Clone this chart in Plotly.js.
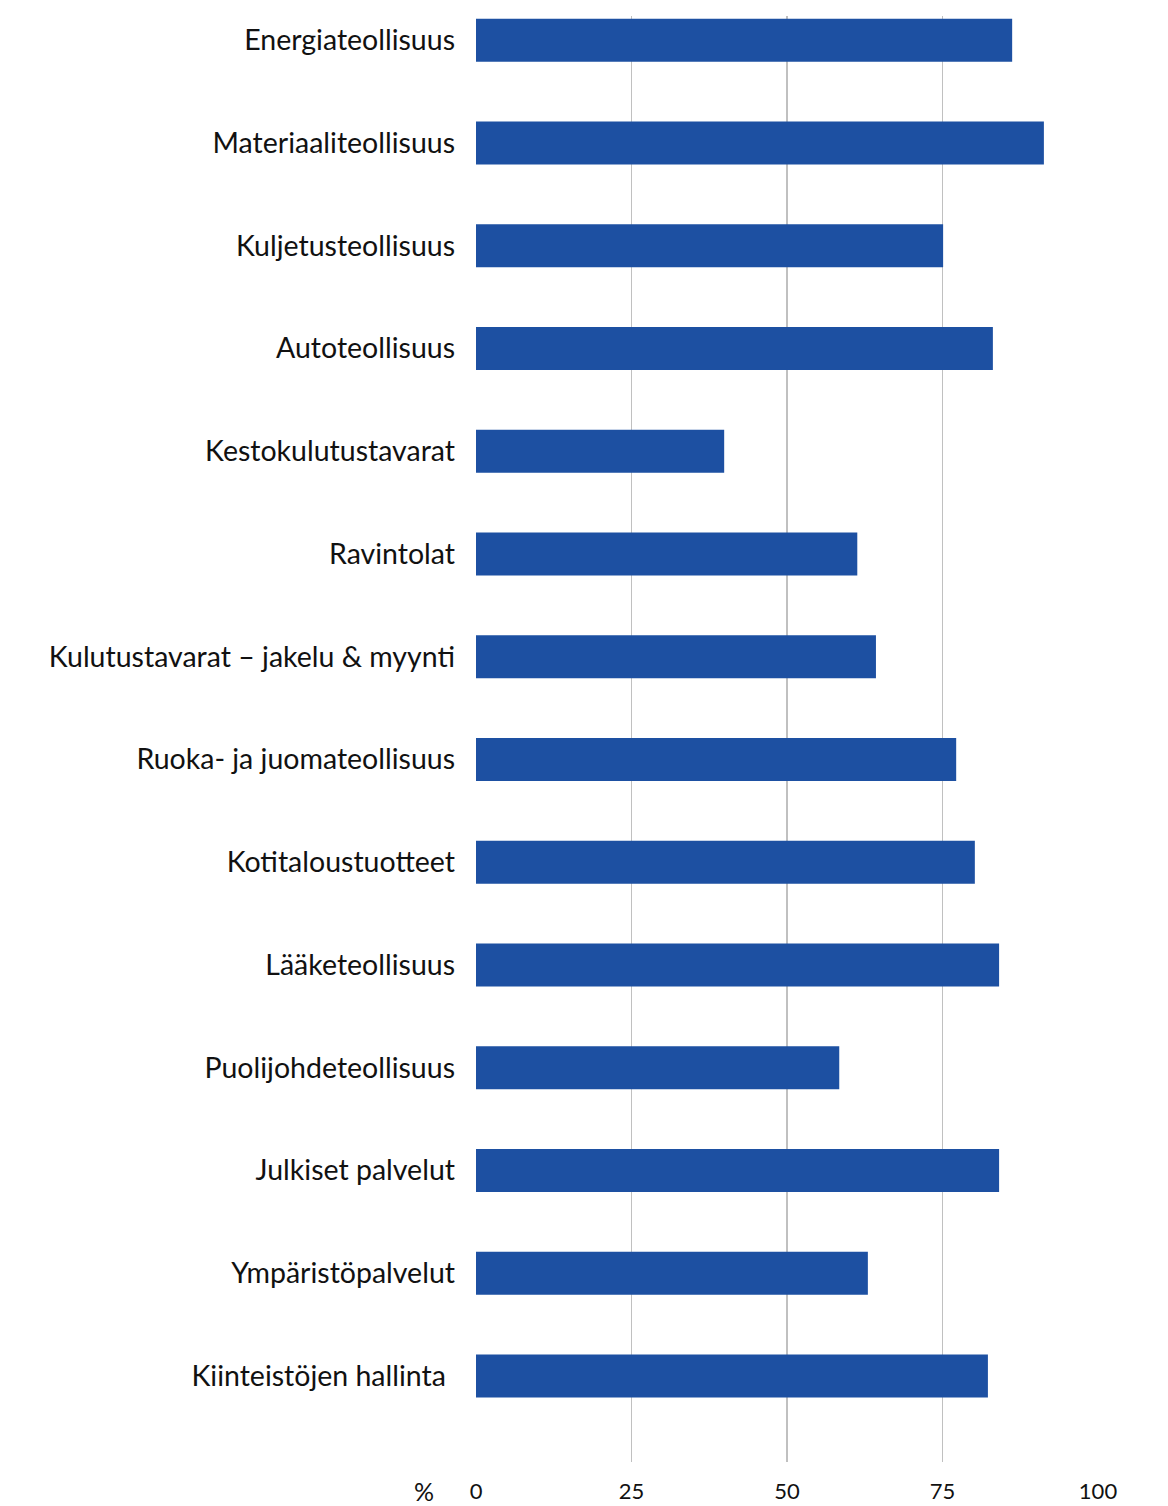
<!DOCTYPE html>
<html>
<head>
<meta charset="utf-8">
<script src="https://cdn.plot.ly/plotly-3.0.1.min.js"></script>
<style>html,body{margin:0;padding:0;background:#fff;}#chart{width:1168px;height:1506px;}</style>
</head>
<body>
<div id="chart"></div>
<script>
const categories = [
  "Energiateollisuus",
  "Materiaaliteollisuus",
  "Kuljetusteollisuus",
  "Autoteollisuus",
  "Kestokulutustavarat",
  "Ravintolat",
  "Kulutustavarat – jakelu & myynti",
  "Ruoka- ja juomateollisuus",
  "Kotitaloustuotteet",
  "Lääketeollisuus",
  "Puolijohdeteollisuus",
  "Julkiset palvelut",
  "Ympäristöpalvelut",
  "Kiinteistöjen hallinta\u00a0\u200a"
];
const values = [86.2, 91.3, 75.1, 83.1, 39.9, 61.3, 64.3, 77.2, 80.2, 84.1, 58.4, 84.1, 63.0, 82.3];
const xTickVals = [0, 25, 50, 75, 100];
const xTickText = ["0", "25", "50", "75", "100"];
const unitLabel = "%";

const trace = {
  type: "bar",
  orientation: "h",
  y: categories,
  x: values,
  width: 0.42,
  marker: {color: "#1d50a2"},
  hoverinfo: "x+y"
};

const layout = {
  width: 1168,
  height: 1506,
  margin: {l: 476, r: 70, t: 16, b: 44, pad: 0},
  paper_bgcolor: "#ffffff",
  plot_bgcolor: "#ffffff",
  font: {family: "Lato, 'Open Sans', sans-serif", color: "#111111", size: 28},
  showlegend: false,
  xaxis: {
    range: [0, 100],
    tickmode: "array",
    tickvals: xTickVals,
    ticktext: xTickText,
    showgrid: true,
    gridcolor: "#c0c0c0",
    gridwidth: 1.5,
    zeroline: false,
    showline: false,
    ticks: "",
    ticklabelstandoff: 14,
    tickfont: {size: 22, family: "Lato, sans-serif", color: "#111111"},
    fixedrange: true
  },
  yaxis: {
    type: "category",
    range: [13.837, -0.236],
    showgrid: false,
    zeroline: false,
    showline: false,
    ticks: "",
    ticklabelstandoff: 20,
    tickfont: {size: 28.5, family: "Lato, sans-serif", color: "#111111"},
    fixedrange: true
  },
  annotations: [{
    text: unitLabel,
    xref: "paper", yref: "paper",
    x: 0, y: 0,
    xanchor: "center", yanchor: "middle",
    xshift: -52, yshift: -29,
    showarrow: false,
    font: {size: 25, family: "Lato, sans-serif", color: "#111111"}
  }]
};

Plotly.newPlot("chart", [trace], layout, {displayModeBar: false, staticPlot: true});
</script>
</body>
</html>
